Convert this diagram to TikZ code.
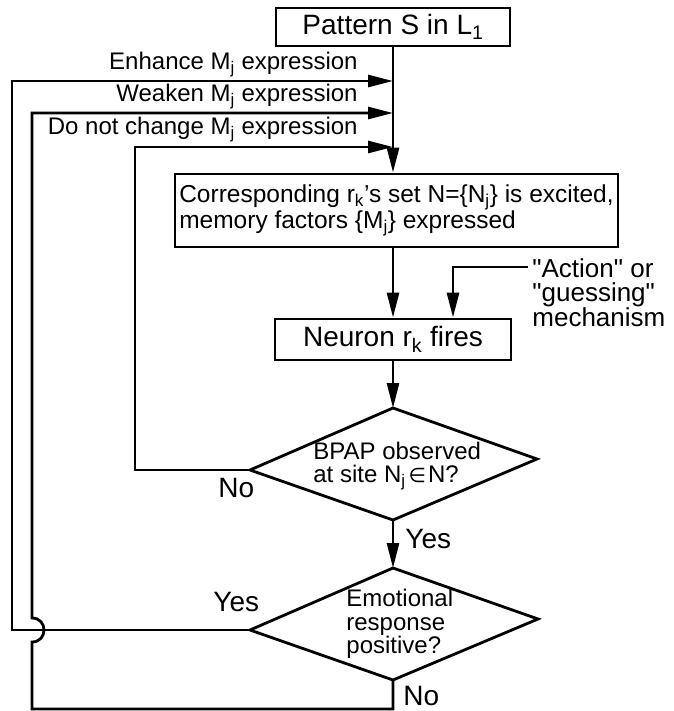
\documentclass[tikz,border=0pt]{standalone}
\usepackage{fontspec}
\setmainfont{Liberation Sans}
\newfontfamily\lsf{Liberation Sans}
\newfontfamily\djv{DejaVu Sans}
\usetikzlibrary{arrows.meta}
\begin{document}
\begin{tikzpicture}[x=1pt,y=-1pt, line width=2.8pt, line join=miter,
 arr/.style={-{Triangle[length=25pt,width=12pt]}},
 sm/.style={font=\lsf\fontsize{24}{23.5}\selectfont, inner sep=0pt},
 bg/.style={font=\lsf\fontsize{28}{30}\selectfont, inner sep=0pt},
 box/.style={draw, rectangle}]
\useasboundingbox (0,0) rectangle (673,711);
% boxes
\node[box,bg,minimum width=234pt,minimum height=38pt] (pat) at (393,27) {Pattern S in L\textsubscript{1}};
\node[box,sm,font=\lsf\fontsize{24.5}{24}\selectfont,minimum width=443pt,minimum height=73pt,align=left] (exc) at (396.5,210.5)
  {Corresponding r\textsubscript{k}’s set N=\{N\textsubscript{j}\} is excited,\\memory factors \{M\textsubscript{j}\} expressed};
\node[box,bg,minimum width=236pt,minimum height=41pt] (neu) at (393,339.5) {Neuron r\textsubscript{k} fires};
% diamonds
\coordinate (d1t) at (393,408); \coordinate (d1r) at (537,459);
\coordinate (d1b) at (393,520); \coordinate (d1l) at (250,470);
\draw (d1t) -- (d1r) -- (d1b) -- (d1l) -- cycle;
\node[sm,align=left,anchor=west] (q1) at (312,466) {BPAP observed\\at site N\textsubscript{j}\kern3pt{\djv\fontsize{20}{20}\selectfont ∈}\kern2pt N?};
\coordinate (d2t) at (393,568); \coordinate (d2r) at (538,619);
\coordinate (d2b) at (393,680); \coordinate (d2l) at (250,630);
\draw (d2t) -- (d2r) -- (d2b) -- (d2l) -- cycle;
\node[sm,align=left,anchor=west] (q2) at (345,624) {Emotional\\response\\positive?};
% feedback entry points
\coordinate (j1) at (393,81); \coordinate (j2) at (393,113); \coordinate (j3) at (393,147);
\coordinate (e0) at (12,81); \coordinate (w0) at (32,113); \coordinate (d0) at (135,147);
\coordinate (nb) at (393,709); \coordinate (wb) at (32,709);
\coordinate (h1) at (32,642); \coordinate (h2) at (32,618);
% labels
\node[sm,anchor=base east] (le) at (359,70) {Enhance M\textsubscript{j} expression};
\node[sm,anchor=base east] (lw) at (359,102) {Weaken M\textsubscript{j} expression};
\node[sm,anchor=base east] (ld) at (359,135) {Do not change M\textsubscript{j} expression};
\node[bg,anchor=base west] (y1) at (404,548) {Yes};
\node[bg,anchor=base west] (n1) at (217,497) {No};
\node[bg,anchor=base west] (y2) at (212,611) {Yes};
\node[bg,anchor=base west] (n2) at (402,705) {No};
\node[sm,font=\lsf\fontsize{26}{24}\selectfont,align=left,anchor=west] (act) at (531,293) {"Action" or\\"guessing"\\mechanism};
\coordinate (actin) at (528,267);
% connectors
\draw[arr] (pat.south) -- (pat.south |- exc.north);
\draw[arr] (neu.north |- exc.south) -- (neu.north);
\draw[arr] (actin) -| ([xshift=60pt]neu.north);
\draw[arr] (neu.south) -- (d1t);
\draw[arr] (d1b) -- (d2t);
\draw[arr] (d1l) -| (d0) -- (j3);
\draw[arr] (d2l) -| (e0) -- (j1);
\draw[arr] (d2b) -- (nb) -- (wb) -- (h1) .. controls (48,642) and (48,618) .. (h2) -- (w0) -- (j2);
\end{tikzpicture}
\end{document}
